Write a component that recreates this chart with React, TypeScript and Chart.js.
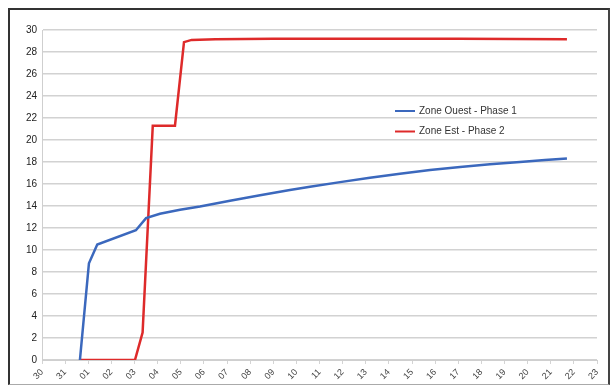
import React, { useEffect, useRef } from "react";
import { Chart, registerables } from "chart.js";

Chart.register(...registerables);

// Day labels along the x axis (one per tick, ticks at 0..24)
const dayLabels = [
  "30", "31", "01", "02", "03", "04", "05", "06", "07", "08", "09", "10",
  "11", "12", "13", "14", "15", "16", "17", "18", "19", "20", "21", "22", "23",
];

const yTickMin = 0;
const yTickMax = 30;
const yTickStep = 2;

// Zone Ouest - Phase 1 (x in days from the first label, y value)
const ouestX = [1.64, 2.03, 2.39, 4.06, 4.5, 5.1, 5.97, 6.83, 8.13, 9.43, 10.72, 11.59, 12.89, 14.18, 15.48, 16.78, 18.08, 19.37, 20.67, 21.75, 22.7];
const ouestY = [0, 8.8, 10.5, 11.8, 12.9, 13.3, 13.65, 13.95, 14.47, 14.97, 15.45, 15.75, 16.17, 16.57, 16.93, 17.27, 17.54, 17.79, 18.01, 18.18, 18.32];

// Zone Est - Phase 2
const estX = [1.64, 4.02, 4.35, 4.79, 5.75, 6.14, 6.47, 7.5, 10, 14, 18, 22.7];
const estY = [0, 0, 2.5, 21.3, 21.3, 28.9, 29.1, 29.15, 29.2, 29.2, 29.2, 29.15];

const seriesNames = ["Zone Ouest - Phase 1", "Zone Est - Phase 2"];
const seriesColors = ["#3b68bd", "#de2a2a"];

const legendPlugin = {
  id: "floatingLegend",
  afterDraw(chart: any) {
    const ctx = chart.ctx;
    ctx.save();
    ctx.font = "10px 'Liberation Sans', Arial, sans-serif";
    ctx.textBaseline = "middle";
    chart.data.datasets.forEach((ds: any, i: number) => {
      const y = 111 + i * 20.5;
      ctx.strokeStyle = ds.borderColor;
      ctx.lineWidth = 2;
      ctx.beginPath();
      ctx.moveTo(395, y);
      ctx.lineTo(415, y);
      ctx.stroke();
      ctx.fillStyle = "#333";
      ctx.fillText(ds.label, 419, y);
    });
    ctx.restore();
  },
};

export default function App() {
  const ref = useRef<HTMLCanvasElement | null>(null);

  useEffect(() => {
    if (!ref.current) return;
    const chart = new Chart(ref.current, {
      type: "line",
      data: {
        datasets: [
          {
            label: seriesNames[0],
            data: ouestX.map((x, i) => ({ x, y: ouestY[i] })),
            borderColor: seriesColors[0],
            backgroundColor: seriesColors[0],
            borderWidth: 2.5,
            pointRadius: 0,
            tension: 0,
          },
          {
            label: seriesNames[1],
            data: estX.map((x, i) => ({ x, y: estY[i] })),
            borderColor: seriesColors[1],
            backgroundColor: seriesColors[1],
            borderWidth: 2.5,
            pointRadius: 0,
            tension: 0,
          },
        ],
      },
      options: {
        animation: false,
        responsive: false,
        maintainAspectRatio: false,
        layout: { padding: { top: 30, right: 17, bottom: 0, left: 0 } },
        plugins: {
          legend: { display: false },
          tooltip: { enabled: false },
        },
        scales: {
          x: {
            type: "linear",
            min: 0,
            max: dayLabels.length - 1,
            afterFit: (s: any) => {
              s.height = 25;
            },
            ticks: {
              stepSize: 1,
              autoSkip: false,
              minRotation: 45,
              maxRotation: 45,
              padding: 3,
              color: "#444",
              font: { size: 9, family: "'Liberation Sans', Arial, sans-serif" },
              callback: (v: any) => dayLabels[Math.round(Number(v))] ?? "",
            },
            grid: {
              drawOnChartArea: false,
              drawTicks: true,
              tickLength: 4,
              color: "#d4d4d4",
            },
            border: { display: true, color: "#cfcfcf", width: 1 },
          },
          y: {
            min: yTickMin,
            max: yTickMax,
            afterFit: (s: any) => {
              s.width = 42;
            },
            ticks: {
              stepSize: yTickStep,
              padding: 5,
              color: "#222",
              font: { size: 10, family: "'Liberation Sans', Arial, sans-serif" },
            },
            grid: {
              drawTicks: false,
              color: "#d2d2d2",
              lineWidth: 1.5,
            },
            border: { display: true, color: "#cfcfcf", width: 1 },
          },
        },
      },
      plugins: [legendPlugin],
    });
    return () => chart.destroy();
  }, []);

  return (
    <div style={{ position: "fixed", left: 0, top: 0, width: 614, height: 385, background: "#fff" }}>
      <canvas ref={ref} width={614} height={385} style={{ position: "absolute", left: 0, top: 0 }} />
      <div
        style={{
          position: "absolute",
          left: 8,
          top: 8,
          width: 598,
          height: 374,
          borderTop: "2px solid #333",
          borderLeft: "2px solid #333",
          borderRight: "2px solid #444",
          borderBottom: "1px solid #aaa",
          pointerEvents: "none",
        }}
      />
    </div>
  );
}
